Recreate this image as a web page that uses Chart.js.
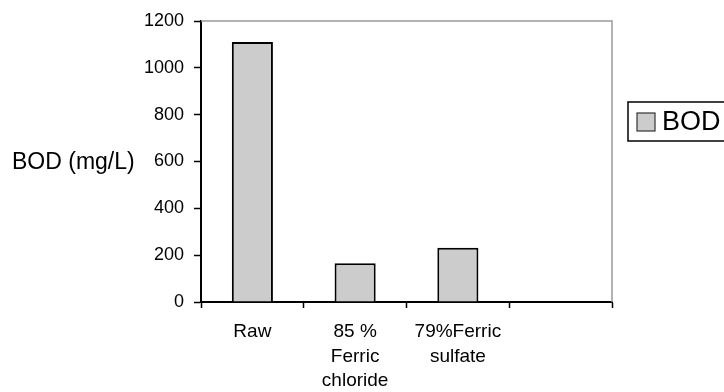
<!DOCTYPE html>
<html>
<head>
<meta charset="utf-8">
<script src="https://cdn.jsdelivr.net/npm/chart.js@4/dist/chart.umd.min.js"></script>
<style>
  html, body { margin: 0; padding: 0; background: #fff; }
  #wrap { width: 724px; height: 392px; }
</style>
</head>
<body>
<div id="wrap"><canvas id="myChart" width="724" height="392"></canvas></div>
<script>
// data
const categories = ['Raw', ['85 %', 'Ferric', 'chloride'], ['79%Ferric', 'sulfate'], ''];
const bodValues = [1110, 165, 232, null];
const seriesName = 'BOD';
const yTitle = 'BOD (mg/L)';
const yTicks = [0, 200, 400, 600, 800, 1000, 1200];

const fontFamily = '"Liberation Sans", Arial, sans-serif';

// gray frame on top and right of the plot, y title, boxed legend
const extras = {
    id: 'extras',
    beforeDatasetsDraw(chart) {
        const ctx = chart.ctx;
        const a = chart.chartArea;
        ctx.save();
        ctx.strokeStyle = '#999999';
        ctx.lineWidth = 1.5;
        ctx.beginPath();
        ctx.moveTo(a.left, a.top);
        ctx.lineTo(a.right, a.top);
        ctx.lineTo(a.right, a.bottom);
        ctx.stroke();
        ctx.restore();
    },
    afterDraw(chart) {
        const ctx = chart.ctx;
        const y = chart.scales.y;
        ctx.save();
        ctx.fillStyle = '#000';
        ctx.font = '23px ' + fontFamily;
        ctx.textBaseline = 'middle';
        ctx.textAlign = 'left';
        ctx.fillText(yTitle, 12, y.getPixelForValue(600) + 1);

        // legend
        const ds = chart.data.datasets[0];
        ctx.lineWidth = 1.5;
        ctx.strokeStyle = '#000';
        ctx.strokeRect(628, 102, 110, 39);
        ctx.fillStyle = ds.backgroundColor;
        ctx.fillRect(637, 113, 18, 18);
        ctx.lineWidth = 1.2;
        ctx.strokeStyle = '#333';
        ctx.strokeRect(637, 113, 18, 18);
        ctx.fillStyle = '#000';
        ctx.font = '27px ' + fontFamily;
        ctx.fillText(ds.label, 662, 123);
        ctx.restore();
    }
};

new Chart('myChart', {
    type: 'bar',
    data: {
        labels: categories,
        datasets: [{
            label: seriesName,
            data: bodValues,
            backgroundColor: '#cccccc',
            borderColor: '#000000',
            borderWidth: 2,
            barPercentage: 0.4,
            categoryPercentage: 1
        }]
    },
    options: {
        responsive: false,
        animation: false,
        layout: { padding: { left: 0, top: 21, right: 112, bottom: 0 } },
        plugins: {
            legend: { display: false },
            tooltip: { enabled: false }
        },
        scales: {
            x: {
                grid: { drawOnChartArea: false, drawTicks: true, tickLength: 6, tickColor: '#000', tickWidth: 1.5, offset: true },
                border: { color: '#000', width: 2 },
                ticks: {
                    color: '#000',
                    font: { family: fontFamily, size: 19, lineHeight: 1.28 },
                    padding: 12,
                    maxRotation: 0,
                    autoSkip: false
                },
                afterFit(scale) { scale.height = 90; }
            },
            y: {
                min: 0,
                max: 1200,
                afterBuildTicks(scale) { scale.ticks = yTicks.map(v => ({ value: v })); },
                grid: { drawOnChartArea: false, drawTicks: true, tickLength: 7, tickColor: '#000', tickWidth: 1.5 },
                border: { color: '#000', width: 2 },
                ticks: {
                    color: '#000',
                    font: { family: fontFamily, size: 18 },
                    padding: 10,
                    callback: v => String(v)
                },
                afterFit(scale) { scale.width = 201; }
            }
        }
    },
    plugins: [extras]
});
</script>
</body>
</html>
